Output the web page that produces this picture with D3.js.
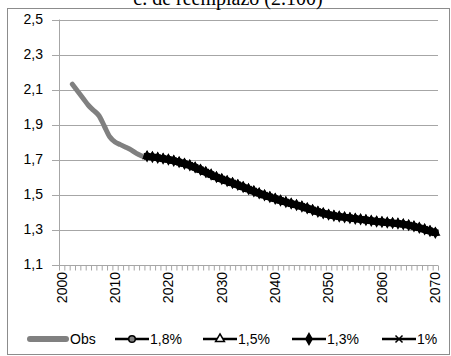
<!DOCTYPE html>
<html><head><meta charset="utf-8">
<script src="https://cdn.jsdelivr.net/npm/d3@7"></script>
<style>body{margin:0;background:#fff}svg{display:block}</style>
</head><body>
<script>
const obsYears = [2002,2003,2004,2005,2006,2007,2008,2009,2010,2011,2012,2013,2014,2015];
const obsValues = [2.13,2.09,2.05,2.01,1.98,1.95,1.89,1.83,1.80,1.785,1.77,1.755,1.735,1.72];
const projYears = d3.range(2016, 2071);
const proj18 = [1.718,1.714,1.71,1.705,1.70,1.693,1.685,1.676,1.667,1.655,1.642,1.628,1.614,1.600,1.588,1.577,1.566,1.555,1.543,1.531,1.519,1.507,1.496,1.486,1.476,1.466,1.457,1.448,1.440,1.432,1.422,1.412,1.402,1.393,1.385,1.379,1.374,1.370,1.366,1.362,1.358,1.354,1.350,1.346,1.343,1.340,1.337,1.334,1.330,1.325,1.318,1.310,1.301,1.292,1.282];
const proj15 = proj18.slice();
const proj13 = proj18.slice();
const proj10 = proj18.slice();
const yTicks = [1.1,1.3,1.5,1.7,1.9,2.1,2.3,2.5];
const xTickLabels = [2000,2010,2020,2030,2040,2050,2060,2070];
const seriesNames = ["Obs","1,8%","1,5%","1,3%","1%"];
const titleText = "c. de reemplazo (2.100)";

const W=451,H=356;
const svg=d3.select("body").append("svg").attr("width",W).attr("height",H);
const font="'Liberation Sans', Arial, sans-serif";
const x=d3.scaleLinear().domain([1999.5,2070.5]).range([59,438]);
const y=d3.scaleLinear().domain([1.1,2.5]).range([264.5,19.5]);
const grid="#a6a6a6";

// border
svg.append("rect").attr("x",7.5).attr("y",8.5).attr("width",442).attr("height",346).attr("fill","none").attr("stroke","#8c8c8c").attr("stroke-width",1);
// title (clipped at top, as in the reference)
svg.append("text").attr("x",228).attr("y",5).attr("text-anchor","middle").attr("font-family","'Liberation Serif', 'Times New Roman', serif").attr("font-size",20).attr("fill","#000").text(titleText);

// gridlines + y ticks
svg.append("g").selectAll("line").data(yTicks).join("line")
  .attr("x1",52).attr("x2",438).attr("y1",d=>Math.round(y(d))+0.5).attr("y2",d=>Math.round(y(d))+0.5)
  .attr("stroke",grid).attr("stroke-width",1);
svg.append("g").selectAll("text").data(yTicks).join("text")
  .attr("x",43).attr("y",d=>y(d)).attr("dy","0.35em").attr("text-anchor","end")
  .attr("font-family",font).attr("font-size",14).attr("fill","#000")
  .text(d=>d3.format(".1f")(d).replace(".",","));
svg.append("line").attr("x1",59.5).attr("x2",59.5).attr("y1",y(2.5)).attr("y2",y(1.1)+0.5).attr("stroke",grid);

// x axis with minor ticks
const xAxis=d3.axisBottom(x).tickValues(d3.range(1999.5,2071.5,1)).tickSize(5).tickFormat("");
const gx=svg.append("g").attr("transform",`translate(0,${Math.round(y(1.1))+0.5})`).call(xAxis);
gx.selectAll("path,line").attr("stroke",grid);
gx.select(".domain").attr("d",`M59,0H438`);
svg.append("g").selectAll("text").data(xTickLabels).join("text")
  .attr("transform",d=>`translate(${x(d)},272) rotate(-90)`)
  .attr("dy","0.35em").attr("text-anchor","end")
  .attr("font-family",font).attr("font-size",14).attr("fill","#000").text(d=>d);

// Obs line
const line=d3.line().x(d=>x(d[0])).y(d=>y(d[1])).curve(d3.curveMonotoneX);
svg.append("path").datum(obsYears.map((d,i)=>[d,obsValues[i]])).attr("d",line)
  .attr("fill","none").attr("stroke","#808080").attr("stroke-width",5).attr("stroke-linecap","round").attr("stroke-linejoin","round");

const sym={
  circle:d3.symbol().type(d3.symbolCircle).size(26),
  triangle:d3.symbol().type(d3.symbolTriangle).size(26),
  diamond:d3.symbol().type(d3.symbolDiamond).size(26),
  star:d3.symbol().type(d3.symbolTimes).size(26)
};
const series=[
  {vals:proj18,shape:"circle",fill:"#808080"},
  {vals:proj15,shape:"triangle",fill:"#fff"},
  {vals:proj13,shape:"diamond",fill:"#000"},
  {vals:proj10,shape:"star",fill:"none"}
];
series.forEach(s=>{
  const pts=projYears.map((d,i)=>[d,s.vals[i]]);
  svg.append("path").datum(pts).attr("d",line).attr("fill","none").attr("stroke","#000").attr("stroke-width",3);
  svg.append("g").selectAll("path").data(pts).join("path")
    .attr("transform",d=>`translate(${x(d[0])},${y(d[1])})`)
    .attr("d",sym[s.shape]()).attr("fill",s.fill).attr("stroke","#000").attr("stroke-width",1.5);
});
// solid band as in reference (overlapping markers)
svg.append("path").datum(projYears.map((d,i)=>[d,proj10[i]])).attr("d",line)
  .attr("fill","none").attr("stroke","#000").attr("stroke-width",7);

// legend
const ly=339;
const leg=svg.append("g");
leg.append("line").attr("x1",30).attr("x2",66).attr("y1",ly).attr("y2",ly).attr("stroke","#808080").attr("stroke-width",6).attr("stroke-linecap","round");
leg.append("text").attr("x",70).attr("y",ly).attr("dy","0.35em").attr("font-family",font).attr("font-size",14).text(seriesNames[0]);
const lx=[115,203,292,382];
const lw=[34,34,34,34];
series.forEach((s,i)=>{
  const x0=lx[i], cx=x0+lw[i]/2;
  leg.append("line").attr("x1",x0).attr("x2",x0+lw[i]).attr("y1",ly).attr("y2",ly).attr("stroke","#000").attr("stroke-width",2.5);
  leg.append("path").attr("transform",`translate(${cx},${ly})`).attr("d",d3.symbol().type(s.shape==="circle"?d3.symbolCircle:s.shape==="triangle"?d3.symbolTriangle:s.shape==="diamond"?d3.symbolDiamond:d3.symbolTimes).size(34)()).attr("fill",s.fill).attr("stroke","#000").attr("stroke-width",1.5);
  leg.append("text").attr("x",x0+lw[i]+1).attr("y",ly).attr("dy","0.35em").attr("font-family",font).attr("font-size",14).text(seriesNames[i+1]);
});
</script>
</body></html>
